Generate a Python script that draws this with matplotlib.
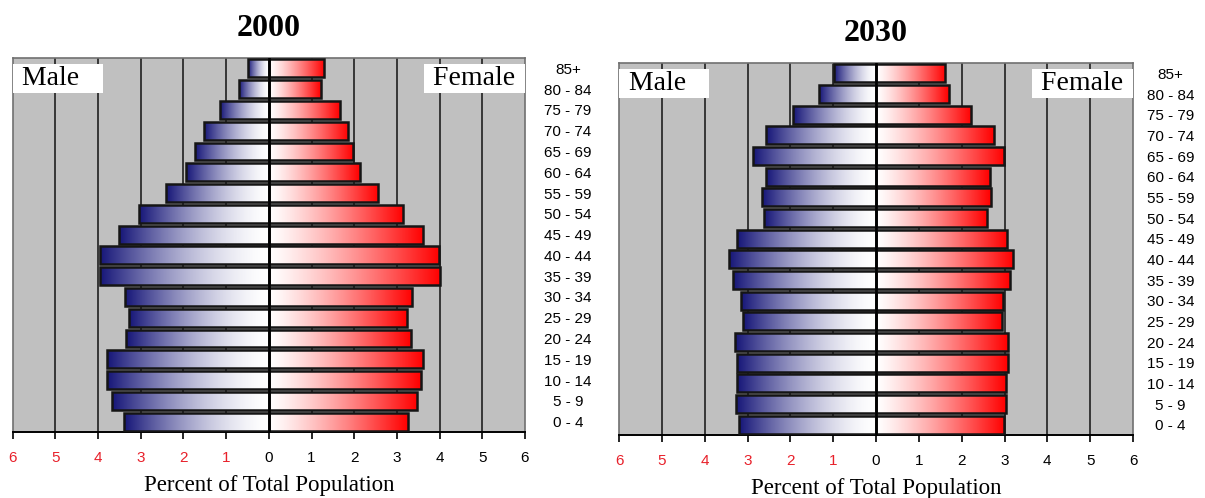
import numpy as np
import matplotlib
matplotlib.use("Agg")
import matplotlib.pyplot as plt
from matplotlib.colors import to_rgb

# ---------------- data ----------------
age_groups = ["0 - 4", "5 - 9", "10 - 14", "15 - 19", "20 - 24", "25 - 29", "30 - 34",
              "35 - 39", "40 - 44", "45 - 49", "50 - 54", "55 - 59", "60 - 64",
              "65 - 69", "70 - 74", "75 - 79", "80 - 84", "85+"]

male_2000 = [3.39, 3.68, 3.79, 3.79, 3.35, 3.27, 3.36, 3.96, 3.95, 3.50, 3.03, 2.42,
             1.95, 1.72, 1.51, 1.15, 0.69, 0.49]
female_2000 = [3.25, 3.48, 3.56, 3.61, 3.32, 3.23, 3.36, 4.01, 3.99, 3.61, 3.15, 2.56,
               2.13, 1.98, 1.86, 1.66, 1.21, 1.30]

male_2030 = [3.20, 3.27, 3.25, 3.25, 3.29, 3.11, 3.16, 3.33, 3.43, 3.25, 2.62, 2.66,
             2.57, 2.88, 2.57, 1.94, 1.33, 0.97]
female_2030 = [2.99, 3.03, 3.03, 3.08, 3.08, 2.94, 2.97, 3.12, 3.21, 3.06, 2.58, 2.68,
               2.65, 2.99, 2.75, 2.22, 1.70, 1.62]

tick_values = [-6, -5, -4, -3, -2, -1, 0, 1, 2, 3, 4, 5, 6]
tick_labels = ["6", "5", "4", "3", "2", "1", "0", "1", "2", "3", "4", "5", "6"]
titles = ["2000", "2030"]

# ---------------- style ----------------
SERIF = ["Liberation Serif", "DejaVu Serif"]
SANS = ["Liberation Sans", "DejaVu Sans"]
NAVY = np.array(to_rgb("#161678"))
RED = np.array(to_rgb("#ff0000"))
WHITE = np.array([1.0, 1.0, 1.0])
BG = "#c0c0c0"


def gradient(c_edge, power, n=256):
    # t = 0 at the centre (white), t = 1 at the outer end of the bar
    t = np.linspace(0, 1, n)[:, None]
    f = t ** power
    arr = WHITE[None, :] * (1 - f) + c_edge[None, :] * f
    return arr


male_grad = gradient(NAVY, 1.6)[::-1][None, :, :]   # left (edge) -> right (centre)
female_grad = gradient(RED, 1.25)[None, :, :]       # left (centre) -> right (edge)

fig = plt.figure(figsize=(12.05, 4.98), dpi=100)

axes_rects = [
    [12.7 / 1205, 1 - 432 / 498, (525 - 12.7) / 1205, (432 - 58) / 498],
    [619 / 1205, 1 - 435 / 498, (1133 - 619) / 1205, (435 - 63) / 498],
]
label_pads = [31, 27]

datasets = [(male_2000, female_2000), (male_2030, female_2030)]

for k, (males, females) in enumerate(datasets):
    ax = fig.add_axes(axes_rects[k])
    ax.set_facecolor(BG)
    y = np.arange(len(age_groups))
    h = 0.86

    # gridlines
    for tv in tick_values[1:-1]:
        ax.axvline(tv, color="#202020", lw=1.2, zorder=1)

    mbars = ax.barh(y, [-m for m in males], height=h, left=0, facecolor="none",
                    edgecolor="#151515", lw=1.8, zorder=4)
    fbars = ax.barh(y, females, height=h, left=0, facecolor="none",
                    edgecolor="#151515", lw=1.8, zorder=4)
    for bar in mbars:
        x0, y0 = bar.get_x(), bar.get_y()
        w, hh = bar.get_width(), bar.get_height()
        im = ax.imshow(male_grad, extent=(x0 + w, x0, y0, y0 + hh), aspect="auto",
                       interpolation="bilinear", zorder=3)
        im.set_clip_path(bar)
    for bar in fbars:
        x0, y0 = bar.get_x(), bar.get_y()
        w, hh = bar.get_width(), bar.get_height()
        im = ax.imshow(female_grad, extent=(x0, x0 + w, y0, y0 + hh), aspect="auto",
                       interpolation="bilinear", zorder=3)
        im.set_clip_path(bar)

    ax.axvline(0, color="black", lw=1.8, zorder=5)

    ax.set_xlim(-6, 6)
    ax.set_ylim(-0.5, len(age_groups) - 0.5)

    ax.set_xticks(tick_values)
    ax.set_xticklabels(tick_labels, fontfamily=SANS, fontsize=11)
    ax.tick_params(axis="x", direction="out", length=5, width=1.2, pad=9, colors="black")
    for lbl, tv in zip(ax.get_xticklabels(), tick_values):
        lbl.set_color("#e8202a" if tv < 0 else "black")

    ax.yaxis.tick_right()
    ax.set_yticks(y)
    ax.set_yticklabels(age_groups, fontfamily=SANS, fontsize=11)
    ax.tick_params(axis="y", length=0, pad=label_pads[k])
    for lbl in ax.get_yticklabels():
        lbl.set_horizontalalignment("center")

    for side in ["left", "top", "right"]:
        ax.spines[side].set_color("#707070")
        ax.spines[side].set_linewidth(1.2)
    ax.spines["bottom"].set_color("black")
    ax.spines["bottom"].set_linewidth(1.4)

    ax.set_xlabel("Percent of Total Population", fontfamily=SERIF, fontsize=16.5, labelpad=7)
    ax.set_title(titles[k], fontfamily=SERIF, fontsize=23, fontweight="bold", pad=16)

    ax.text(0.005, 0.978, " Male   ", transform=ax.transAxes, ha="left", va="top",
            fontfamily=SERIF, fontsize=20, zorder=6,
            bbox=dict(boxstyle="square,pad=0.08", facecolor="white", edgecolor="none"))
    ax.text(0.995, 0.978, " Female ", transform=ax.transAxes, ha="right", va="top",
            fontfamily=SERIF, fontsize=20, zorder=6,
            bbox=dict(boxstyle="square,pad=0.08", facecolor="white", edgecolor="none"))

fig.savefig("out.png", dpi=100, facecolor="white")
